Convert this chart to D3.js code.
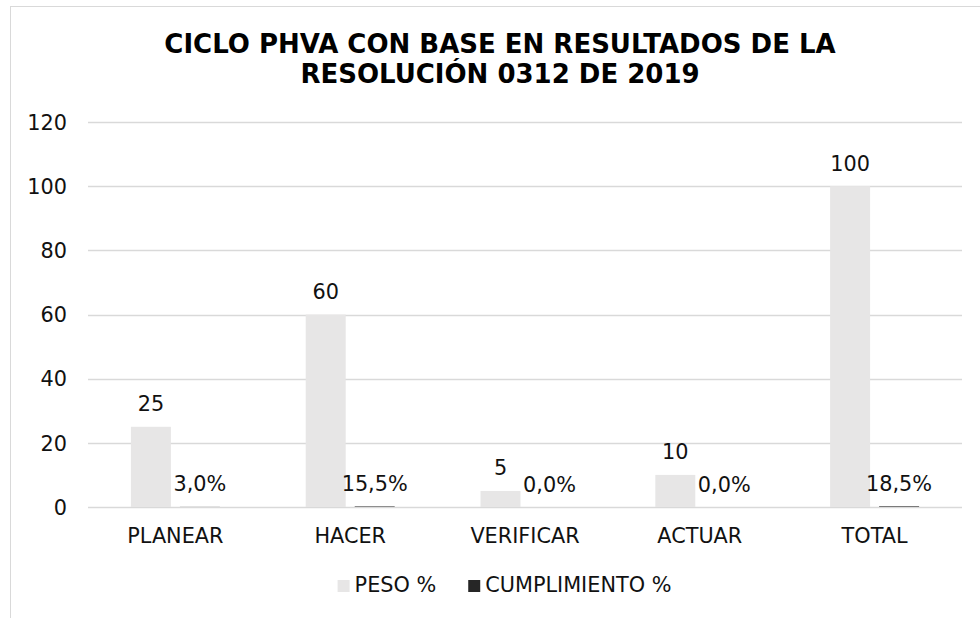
<!DOCTYPE html>
<html>
<head>
<meta charset="utf-8">
<script src="https://cdn.jsdelivr.net/npm/d3@7/dist/d3.min.js"></script>
<style>
  html, body { margin: 0; padding: 0; background: #fff; }
  svg { display: block; font-family: "DejaVu Sans", Verdana, sans-serif; }
</style>
</head>
<body>
<svg id="chart" width="980" height="618"></svg>
<script>
const titleLines = ["CICLO PHVA CON BASE EN RESULTADOS DE LA", "RESOLUCIÓN 0312 DE 2019"];
const categories = ["PLANEAR", "HACER", "VERIFICAR", "ACTUAR", "TOTAL"];
const seriesNames = ["PESO %", "CUMPLIMIENTO %"];
const pesoValues = [25, 60, 5, 10, 100];
const cumplimientoValues = [0.03, 0.155, 0, 0, 0.185];
const yTicks = [0, 20, 40, 60, 80, 100, 120];

const colors = ["#e7e6e6", "#262626"];
const svg = d3.select("#chart");
const FS = 20.8;

// chart frame
svg.append("rect")
  .attr("x", 10.5).attr("y", 6.5)
  .attr("width", 1100).attr("height", 800)
  .attr("fill", "#fff").attr("stroke", "#d9d9d9").attr("stroke-width", 1);

// title
const title = svg.append("text")
  .attr("text-anchor", "middle")
  .attr("font-weight", "bold")
  .attr("font-size", 26)
  .attr("fill", "#000");
titleLines.forEach((t, i) => {
  title.append("tspan").attr("x", 500).attr("y", 53 + i * 30).text(t);
});

const plot = { left: 88, right: 962, top: 122, bottom: 507 };

const x = d3.scaleBand().domain(categories).range([plot.left, plot.right]).padding(0);
const xs = d3.scaleBand().domain(seriesNames).range([0, x.bandwidth()])
  .paddingInner(0.184).paddingOuter(0.876);
const y = d3.scaleLinear().domain([0, 120]).range([plot.bottom, plot.top]);

// gridlines
svg.append("g")
  .selectAll("line").data(yTicks).join("line")
  .attr("x1", plot.left).attr("x2", plot.right)
  .attr("y1", d => Math.round(y(d)) + 0.5).attr("y2", d => Math.round(y(d)) + 0.5)
  .attr("stroke", "#d9d9d9").attr("stroke-width", 1.3);

// y axis labels
const yAxis = d3.axisLeft(y).tickValues(yTicks).tickSize(0).tickPadding(0);
const yg = svg.append("g").attr("transform", `translate(${plot.left - 21},0)`).call(yAxis);
yg.select(".domain").remove();
yg.selectAll("text").attr("font-size", FS).attr("fill", "#111")
  .attr("font-family", "DejaVu Sans, Verdana, sans-serif").attr("dy", "0.35em");

// x axis labels
const xAxis = d3.axisBottom(x).tickSize(0).tickPadding(0);
const xg = svg.append("g").attr("transform", `translate(0,${plot.bottom})`).call(xAxis);
xg.select(".domain").remove();
xg.selectAll("text").attr("font-size", FS).attr("fill", "#111")
  .attr("font-family", "DejaVu Sans, Verdana, sans-serif")
  .attr("dy", null).attr("y", 36);

// bars
const seriesData = [pesoValues, cumplimientoValues];
const fmtPct = v => (v * 100).toFixed(1).replace(".", ",") + "%";
const fmtNum = v => String(v);

seriesData.forEach((vals, si) => {
  const g = svg.append("g");
  g.selectAll("rect").data(vals).join("rect")
    .attr("x", (d, i) => x(categories[i]) + xs(seriesNames[si]))
    .attr("width", xs.bandwidth())
    .attr("y", d => y(d))
    .attr("height", d => y(0) - y(d))
    .attr("fill", colors[si]);
  g.selectAll("text").data(vals).join("text")
    .attr("x", (d, i) => x(categories[i]) + xs(seriesNames[si]) + xs.bandwidth() / 2)
    .attr("y", d => y(d) - 15.5)
    .attr("text-anchor", "middle")
    .attr("font-size", FS).attr("fill", "#111")
    .text(d => si === 0 ? fmtNum(d) : fmtPct(d));
});

// legend
const legend = svg.append("g");
const items = legend.selectAll("g").data(seriesNames).join("g");
items.append("rect").attr("width", 12).attr("height", 12).attr("y", -12)
  .attr("fill", (d, i) => colors[i]);
items.append("text").attr("x", 17).attr("y", 0)
  .attr("font-size", FS).attr("fill", "#111").text(d => d);
let widths = [];
items.each(function () { widths.push(this.getBBox().width); });
const gap = 32;
const total = d3.sum(widths) + gap * (widths.length - 1);
let cx = 504.5 - total / 2;
items.attr("transform", (d, i) => {
  const t = `translate(${cx},${592})`;
  cx += widths[i] + gap;
  return t;
});
</script>
</body>
</html>
